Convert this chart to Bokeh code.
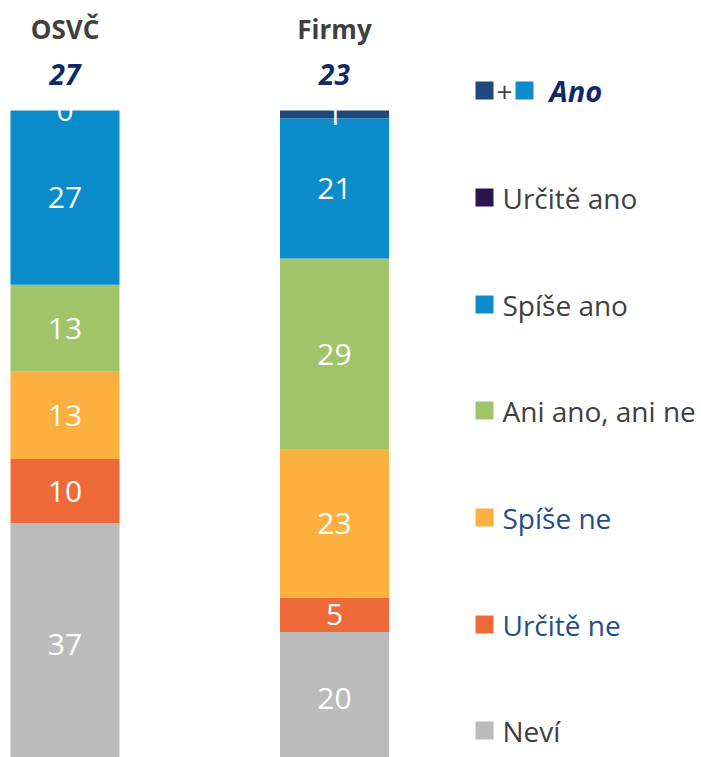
from bokeh.plotting import figure
from bokeh.models import ColumnDataSource, Range1d
from bokeh.core.properties import value
from bokeh.embed import file_html
from bokeh.resources import INLINE

# ---------------- data ----------------
categories = ["OSVČ", "Firmy"]
ano_totals = [27, 23]
series_names = ["Určitě ano", "Spíše ano", "Ani ano, ani ne", "Spíše ne", "Určitě ne", "Neví"]
urcite_ano = [0.0, 1.2]
spise_ano = [26.6, 21.4]
ani_ano_ani_ne = [13.3, 29.2]
spise_ne = [13.3, 22.6]
urcite_ne = [9.8, 5.2]
nevi = [37.0, 20.4]
ano_legend_label = "Ano"

# ---------------- styles / layout ----------------
W, H = 701, 757
SCALE = 6.55      # px per percent
TOP_PX = 110      # screen y of the bar tops
bar_centers = [64.5, 334]
bar_width = 109
FONT = "Open Sans"

seg_colors = ["#21487C", "#0B8BCA", "#9FC46A", "#FBB040", "#EE6A38", "#BBBBBB"]
legend_sq_colors = ["#2B1551", "#0B8BCA", "#9FC46A", "#FBB040", "#EE6A38", "#BBBBBB"]
legend_txt_colors = ["#404040", "#404040", "#404040", "#1F4E8C", "#1F4E8C", "#404040"]
legend_rows_px = [90, 197, 304, 410, 517, 624, 730]

p = figure(width=W, height=H, output_backend="svg", toolbar_location=None,
           x_range=Range1d(0, W),
           y_range=Range1d(100 - (H - TOP_PX) / SCALE, 100 + TOP_PX / SCALE),
           min_border=0)
p.extra_y_ranges = {"px": Range1d(start=H, end=0)}
p.axis.visible = False
p.grid.visible = False
p.outline_line_color = None
p.background_fill_color = "white"

# stacked bars (bottom to top)
series = [urcite_ano, spise_ano, ani_ano_ani_ne, spise_ne, urcite_ne, nevi]
keys = ["s%d" % i for i in range(len(series))]
data = {"x": bar_centers}
for k, s in zip(keys, series):
    data[k] = s
src = ColumnDataSource(data)
stack_keys = keys[::-1]
stack_colors = seg_colors[::-1]
p.vbar_stack(stack_keys, x="x", width=bar_width, fill_color=stack_colors,
             line_color=None, source=src)

# segment labels
lx, ly, lt = [], [], []
for i, xc in enumerate(bar_centers):
    base = 0.0
    for s in series[::-1]:
        v = s[i]
        lx.append(xc)
        ly.append(base + v / 2)
        lt.append(str(int(round(v))))
        base += v
p.text(x=lx, y=ly, text=lt, text_align="center", text_baseline="middle",
       text_color="white", text_font=value(FONT), text_font_size="30px")

# headers
p.text(x=bar_centers, y=[28, 28], text=categories, y_range_name="px",
       text_align="center", text_baseline="middle", text_color="#404040",
       text_font=value(FONT), text_font_style="bold", text_font_size="26px")
p.text(x=bar_centers, y=[74, 74], text=[str(v) for v in ano_totals], y_range_name="px",
       text_align="center", text_baseline="middle", text_color="#0F2A66",
       text_font=value(FONT), text_font_style="bold italic", text_font_size="28px")

# legend: first row "■+■ Ano"
r0 = legend_rows_px[0]
p.rect(x=[484, 524], y=[r0, r0], width=18, height=18, fill_color=[seg_colors[0], seg_colors[1]],
       line_color=None, y_range_name="px")
p.text(x=[504], y=[r0 + 1], text=["+"], y_range_name="px", text_align="center",
       text_baseline="middle", text_color="#404040", text_font=value(FONT), text_font_size="28px")
p.text(x=[549], y=[r0], text=[ano_legend_label], y_range_name="px", text_align="left",
       text_baseline="middle", text_color="#0F2A66", text_font=value(FONT),
       text_font_style="bold italic", text_font_size="29px")

# legend rows
rows = legend_rows_px[1:]
p.rect(x=[484] * len(rows), y=rows, width=18, height=18, fill_color=legend_sq_colors,
       line_color=None, y_range_name="px")
p.text(x=[502] * len(rows), y=rows, text=series_names, y_range_name="px",
       text_align="left", text_baseline="middle", text_color=legend_txt_colors,
       text_font=value(FONT), text_font_size="28px")

open("out.html", "w").write(file_html(p, INLINE))
